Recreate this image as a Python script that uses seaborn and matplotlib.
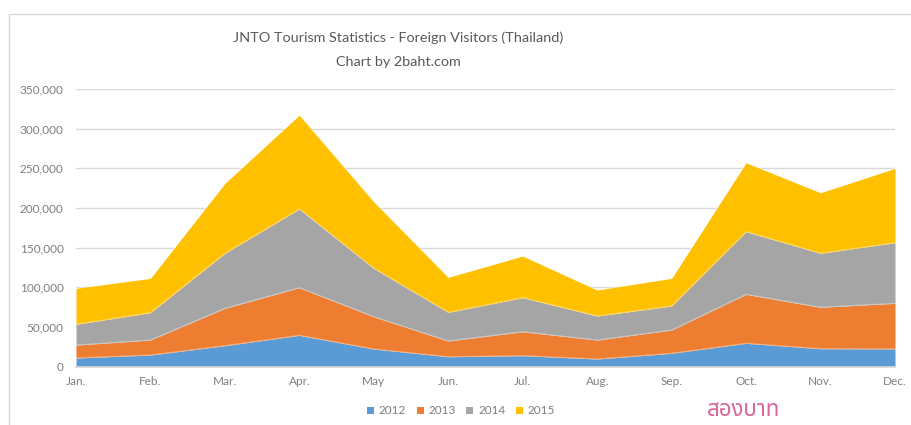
import matplotlib
matplotlib.use("Agg")
import matplotlib.pyplot as plt
from matplotlib.patches import Patch
from matplotlib.lines import Line2D
from matplotlib.ticker import FuncFormatter, MultipleLocator
import numpy as np
import pandas as pd
import seaborn as sns

# Monthly foreign visitors from Thailand (JNTO)
months = ["Jan.", "Feb.", "Mar.", "Apr.", "May", "Jun.",
          "Jul.", "Aug.", "Sep.", "Oct.", "Nov.", "Dec."]
years = ["2012", "2013", "2014", "2015"]
visitors_2012 = [11000, 14700, 26500, 39500, 22300, 12600, 13900, 9700, 16900, 29500, 22700, 22500]
visitors_2013 = [16300, 18900, 47100, 60100, 40700, 19800, 30200, 23900, 29300, 61700, 52200, 57400]
visitors_2014 = [26100, 34500, 69300, 99200, 61000, 36100, 42900, 30300, 30300, 79000, 68000, 76400]
visitors_2015 = [45400, 43300, 88200, 118400, 84000, 44200, 52500, 32800, 34900, 86900, 76400, 93700]
colors = ["#5B9BD5", "#ED7D31", "#A5A5A5", "#FFC000"]

title_text = "JNTO Tourism Statistics - Foreign Visitors (Thailand)"
subtitle_text = "Chart by 2baht.com"
signature_text = "สองบาท"

df = pd.DataFrame({"month": months, "2012": visitors_2012, "2013": visitors_2013,
                   "2014": visitors_2014, "2015": visitors_2015})

sns.set_theme(style="white")
plt.rcParams["font.family"] = ["Lato", "DejaVu Sans"]

W, H = 912, 425
fig = plt.figure(figsize=(W / 100, H / 100), dpi=100)
ax = fig.add_axes([76 / W, 1 - 366.7 / H, (895 - 76) / W, (366.7 - 89) / H])

x = np.arange(len(months))
series = [df[y].to_numpy() for y in years]
ax.stackplot(x, *series, colors=colors, zorder=2, linewidth=0)

# faint separators along each stacked boundary
cum = np.cumsum(np.vstack(series), axis=0)
long = pd.DataFrame({"x": np.tile(x, len(years)), "top": cum.ravel(),
                     "year": np.repeat(years, len(months))})
sns.lineplot(data=long, x="x", y="top", units="year", estimator=None,
             color="white", alpha=0.35, linewidth=0.8, ax=ax, zorder=3, legend=False)

ax.set_xlim(0, len(months) - 1)
ax.set_ylim(0, 350000)
ax.yaxis.set_major_locator(MultipleLocator(50000))
ax.yaxis.set_major_formatter(FuncFormatter(lambda v, p: f"{int(v):,}"))
ax.set_xticks(x)
ax.set_xticklabels(months)
ax.grid(axis="y", color="#D9D9D9", linewidth=1.0, zorder=0)
ax.set_axisbelow(True)
for s in ["top", "right", "left"]:
    ax.spines[s].set_visible(False)
ax.spines["bottom"].set_color("#D9D9D9")
ax.tick_params(axis="both", length=0, labelsize=8.5, labelcolor="#7F7F7F")
ax.tick_params(axis="y", pad=9)
ax.tick_params(axis="x", pad=7)
ax.set_xlabel("")
ax.set_ylabel("")

# chart frame
fig.add_artist(Line2D([9 / W, 9 / W], [0, 1 - 14 / H], transform=fig.transFigure,
                      color="#D9D9D9", linewidth=1.0))
fig.add_artist(Line2D([9 / W, 1], [1 - 14 / H, 1 - 14 / H], transform=fig.transFigure,
                      color="#D9D9D9", linewidth=1.0))

fig.text(398 / W, 1 - 38 / H, title_text, ha="center", va="center",
         fontsize=10.4, color="#595959")
fig.text(398 / W, 1 - 62 / H, subtitle_text, ha="center", va="center",
         fontsize=10.4, color="#595959")

handles = [Patch(facecolor=c, edgecolor="none") for c in colors]
fig.legend(handles, years, loc="center", bbox_to_anchor=(461 / W, 1 - 411 / H),
           ncol=4, frameon=False, fontsize=8.5, handlelength=0.6, handleheight=0.6,
           handletextpad=0.4, columnspacing=0.9, labelcolor="#7F7F7F")

thai_families = ["Noto Sans Thai", "Noto Serif Thai", "Loma", "Garuda", "Norasi",
                 "Tlwg Typo", "Waree", "Sawasdee", "Umpush", "Kinnari",
                 "Noto Sans", "Open Sans", "Roboto", "Inter", "Liberation Sans",
                 "Noto Sans CJK SC", "DejaVu Sans"]
fig.text(744 / W, 1 - 411 / H, signature_text, ha="center", va="center",
         fontsize=16, color="#D9669A", style="italic", family=thai_families)

fig.savefig("out.png", dpi=100)
